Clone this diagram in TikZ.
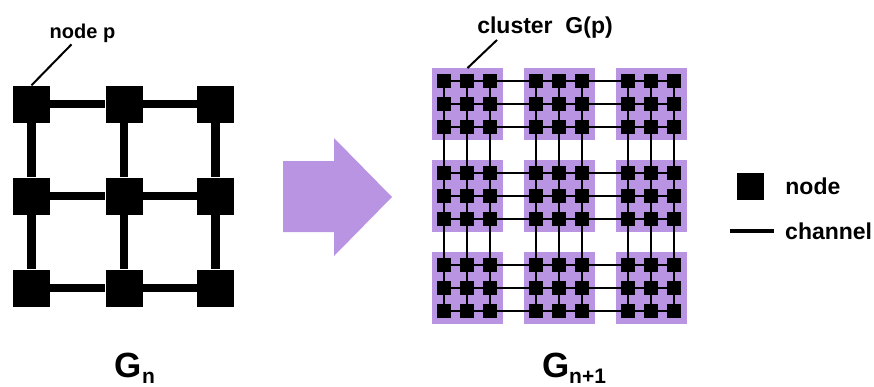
\documentclass[tikz,border=0pt]{standalone}
\usepackage{fontspec}
\setmainfont{Liberation Sans}
\usetikzlibrary{positioning}

\definecolor{clusterpurple}{RGB}{185,148,226}

\begin{document}
\begin{tikzpicture}[
  x=1pt, y=-1pt,
  bignode/.style={rectangle, fill=black, minimum size=37pt, inner sep=0pt},
  smallnode/.style={rectangle, fill=black, minimum size=14.5pt, inner sep=0pt},
  keynode/.style={rectangle, fill=black, minimum size=27pt, inner sep=0pt},
  cluster/.style={rectangle, fill=clusterpurple, minimum size=71.5pt, inner sep=0pt},
  biglink/.style={line width=8.5pt},
  link/.style={line width=2.6pt},
  keylink/.style={line width=4.5pt},
  leader/.style={line width=2pt},
  lbl/.style={font=\bfseries\fontsize{23}{27}\selectfont, inner sep=1pt},
  title/.style={font=\bfseries\fontsize{35}{40}\selectfont, inner sep=1pt, anchor=base}
]
  \useasboundingbox (0,0) rectangle (874,386);

  % G_n
  \foreach \i/\x in {1/31.5,2/124,3/215.5}
    \foreach \j/\y in {1/104,2/196,3/288}
      \node[bignode] (p-\i-\j) at (\x,\y) {};
  \foreach \j in {1,2,3} {
    \draw[biglink] (p-1-\j) -- (p-2-\j);
    \draw[biglink] (p-2-\j) -- (p-3-\j);
    \draw[biglink] (p-\j-1) -- (p-\j-2);
    \draw[biglink] (p-\j-2) -- (p-\j-3);
  }
  \node[lbl, font=\bfseries\fontsize{20}{24}\selectfont, anchor=base] (lblp) at (82.5,38) {node p};
  \draw[leader] (lblp.south) ++(-11,1) -- (p-1-1.north);

  % arrow
  \fill[clusterpurple] (283,161) -- (334,161) -- (334,138) -- (392,197)
    -- (334,256) -- (334,232) -- (283,232) -- cycle;

  % G_{n+1}
  \foreach \a/\cx in {1/467.5,2/559.5,3/651.5}
    \foreach \b/\cy in {1/104,2/196,3/288}
      \node[cluster] (g-\a-\b) at (\cx,\cy) {};
  \foreach \i/\x in {1/444,2/467,3/490,4/536,5/559,6/582,7/628,8/651,9/674}
    \foreach \j/\y in {1/81,2/104,3/127,4/173,5/196,6/219,7/265,8/288,9/311}
      \node[smallnode] (q-\i-\j) at (\x,\y) {};
  \foreach \j in {1,...,9}
    \foreach \i [count=\n from 2] in {1,...,8} {
      \draw[link] (q-\i-\j) -- (q-\n-\j);
      \draw[link] (q-\j-\i) -- (q-\j-\n);
    }
  \node[lbl, anchor=base] (lblg) at (545,33) {cluster\ \ G(p)};
  \draw[leader] (lblg.south) ++(-48,1) -- (g-1-1.north);

  % titles
  \node[title] (gn) at (135,377) {G\raisebox{-6pt}{\fontsize{21}{21}\selectfont n}};
  \node[title] (gn1) at (574,377) {G\raisebox{-6pt}{\fontsize{21}{21}\selectfont n+1}};

  % key
  \node[keynode] (knode) at (750.5,186.5) {};
  \node[lbl, right=20pt of knode] (knodetxt) {node};
  \coordinate (kl1) at (730,231);
  \coordinate (kl2) at (774,231);
  \draw[keylink] (kl1) -- (kl2);
  \node[lbl, right=10pt of kl2] (klinktxt) {channel};
\end{tikzpicture}
\end{document}
